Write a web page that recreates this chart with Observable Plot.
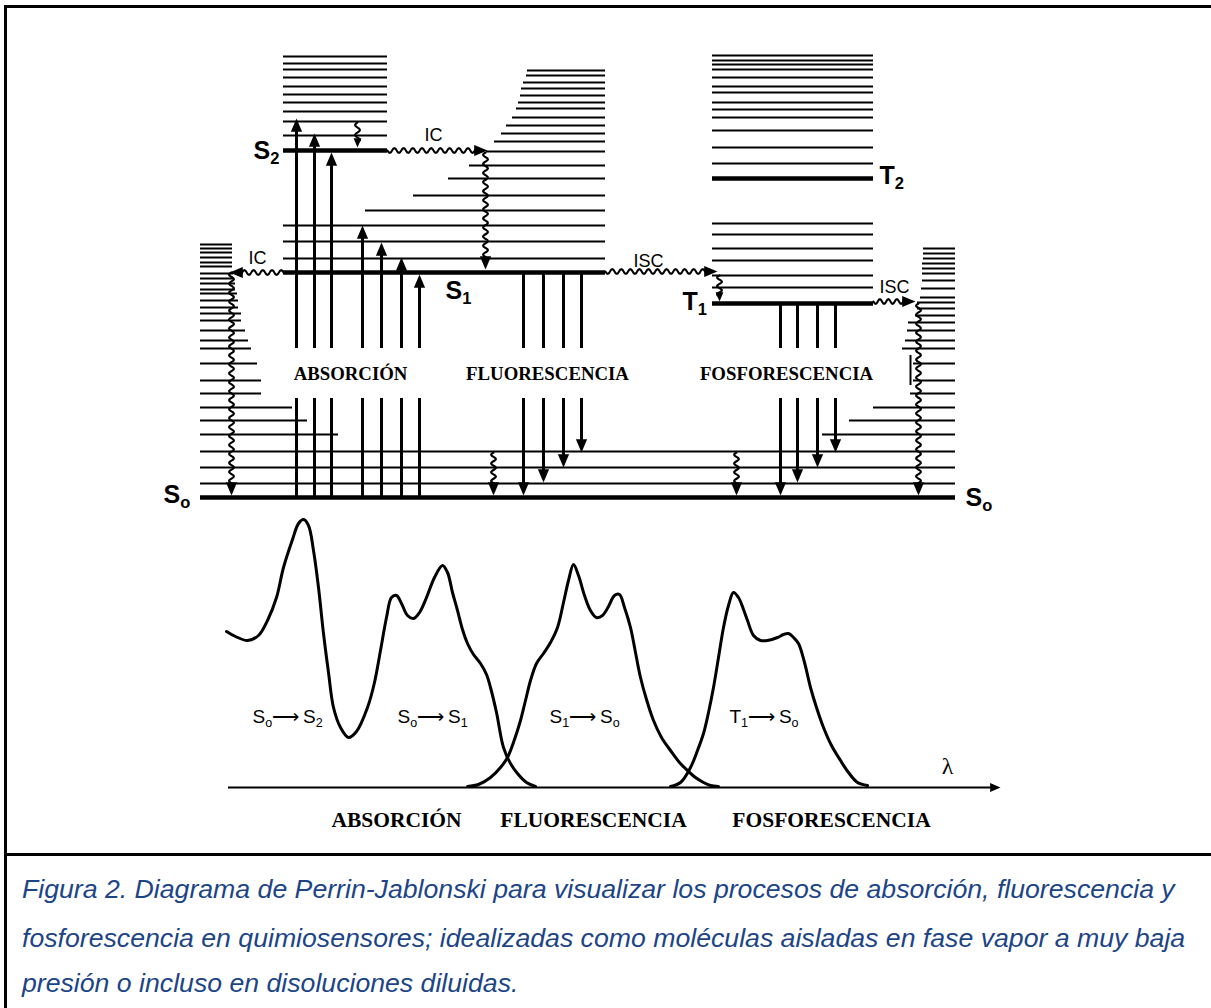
<!DOCTYPE html>
<html><head><meta charset="utf-8">
<script src="https://cdn.jsdelivr.net/npm/d3@7"></script>
<script src="https://cdn.jsdelivr.net/npm/@observablehq/plot@0.6"></script>
<style>
html,body{margin:0;padding:0;background:#fff;}
#page{position:relative;width:1211px;height:1008px;overflow:hidden;background:#fff;}
.bd{position:absolute;background:#000;z-index:5;}
#diagram,#spectra{position:absolute;left:0;}
#diagram{top:0;z-index:2}
#spectra{top:500px;z-index:1}
.cap{position:absolute;left:22px;font-family:"Liberation Sans",Arial,sans-serif;font-style:italic;font-size:22px;color:#1c4587;white-space:nowrap;}
</style></head><body>
<div id="page">
  <div id="diagram"></div>
  <div id="spectra"></div>
  <div class="bd" style="left:4px;top:5px;width:1207px;height:3px"></div>
  <div class="bd" style="left:4px;top:5px;width:3px;height:1003px"></div>
  <div class="bd" style="left:4px;top:853px;width:1207px;height:3px"></div>
  <div class="cap" id="c1" data-center="889">Figura 2. Diagrama de Perrin-Jablonski para visualizar los procesos de absorción, fluorescencia y</div>
  <div class="cap" id="c2" data-center="938">fosforescencia en quimiosensores; idealizadas como moléculas aisladas en fase vapor a muy baja</div>
  <div class="cap" id="c3" data-center="983">presión o incluso en disoluciones diluidas.</div>
</div>
<script>
// ---------------- DATA: Perrin-Jablonski diagram (energy E in arbitrary units, S0 = 0) -------------
const states = [
  {name: "S0", e: 0,   x1: 200, x2: 955},
  {name: "S1", e: 225, x1: 283, x2: 605},
  {name: "S2", e: 347, x1: 283, x2: 387},
  {name: "T1", e: 194, x1: 712, x2: 873},
  {name: "T2", e: 319, x1: 712, x2: 873}
];
// S0 vibrational levels, left stack: [energy, right end]
const s0Left = [[253,232],[249,232],[245,232],[240,232],[235,232],[231,232],[224,233],[219,234],[214,235],[208,235],[204,237],[197,238],[190,238],[184,241],[177,241],[167,245],[157,248],[149,251],[134,257],[117,261],[104,261],[90,292],[77,307],[63,338]];
// S0 vibrational levels, right stack: [energy, left start]
const s0Right = [[249,923],[244,923],[239,923],[234,922],[229,922],[224,922],[217,922],[209,921],[200,920],[195,917],[189,917],[182,915],[175,908],[167,907],[157,905],[149,902],[134,913],[117,913],[104,910],[90,873],[77,849],[63,822]];
// S0 vibrational levels spanning the whole width
const s0Full = [46, 30, 14];
// S1 vibrational levels: [energy, left start] (right end = S1 end)
const s1Vib = [[427,527],[422,526],[415,523],[409,521],[402,520],[395,518],[389,516],[380,512],[372,506],[364,501],[356,494],[346,486],[332,469],[319,448],[302,413],[287,365],[272,283],[256,283],[239,283]];
// S2 vibrational levels (same extent as S2)
const s2Vib = [441,434,428,420,411,403,395,386,376,362];
// triplet manifold levels (same extent as T1)
const tVib = [442,437,433,428,420,411,405,395,388,380,367,350,334,274,263,249,237,222,210];

// radiative transitions
const absorption = [{x:296,top:379},{x:314,top:364},{x:331,top:345},{x:362,top:272},{x:381,top:255},{x:401,top:240},{x:419,top:223}];
const fluorescence = [{x:523,bottom:2},{x:543,bottom:15},{x:563,bottom:30},{x:581,bottom:45}];
const phosphorescence = [{x:780,bottom:2},{x:797,bottom:15},{x:817,bottom:30},{x:835,bottom:45}];
const labelGap = [99, 149];

// non-radiative (wavy) transitions: from (x1,e1) to arrow tip (x2,e2)
const nonRadiative = [
  {name:"IC S2-S1",   x1:387, e1:347, x2:487, e2:347},
  {name:"IC S2-S1 v", x1:485, e1:345, x2:485, e2:228},
  {name:"VR S2",      x1:357, e1:375, x2:357, e2:350},
  {name:"IC S1-S0",   x1:283, e1:225, x2:229, e2:225},
  {name:"IC S1-S0 v", x1:231, e1:225, x2:231, e2:2},
  {name:"ISC S1-T1",  x1:605, e1:226, x2:717, e2:226},
  {name:"VR T1",      x1:719, e1:222, x2:719, e2:196},
  {name:"ISC T1-S0",  x1:873, e1:196, x2:915, e2:196},
  {name:"ISC T1-S0 v",x1:918, e1:194, x2:918, e2:2},
  {name:"VR S0 a",    x1:493, e1:45,  x2:493, e2:2},
  {name:"VR S0 b",    x1:736, e1:45,  x2:736, e2:2}
];
const marker910 = [{x:910, e1:112, e2:142}];

// labels
const stateLabels = [
  {text:"S{2}", x:253, e:347}, {text:"S{1}", x:445, e:207},
  {text:"S{o}", x:163, e:3},   {text:"S{o}", x:965, e:0},
  {text:"T{1}", x:682, e:196}, {text:"T{2}", x:879, e:322}
];
const processLabels = [
  {text:"IC", x:433, e:362}, {text:"IC", x:257, e:239},
  {text:"ISC", x:648, e:236}, {text:"ISC", x:894, e:210}
];
const bandLabels = [
  {text:"ABSORCIÓN", x:350}, {text:"FLUORESCENCIA", x:547}, {text:"FOSFORESCENCIA", x:786}
];

// ---------------- DATA: spectra (x = wavelength position, i = intensity) -------------
const absSpectrum = [[226,156],[235,151],[247,147],[258,152],[267,167],[276,190],[283,220],[292,248],[298,264],[303,268],[308,262],[313,237],[318,200],[323,154],[328,115],[333,80],[340,60],[348,50],[356,56],[367,80],[374,105],[380,137],[386,170],[391,190],[396,192],[401,184],[407,172],[413,169],[419,175],[426,190],[434,210],[442,222],[447,215],[452,195],[457,177],[462,158],[467,144],[473,133],[480,124],[486,113],[490,100],[496,75],[503,40],[510,24],[517,14],[526,5],[535,1]];
const fluoSpectrum = [[467,1],[478,3],[490,10],[500,20],[507,30],[514,48],[520,67],[525,87],[530,107],[536,124],[543,134],[550,145],[557,160],[563,185],[568,207],[573,223],[578,212],[584,192],[590,177],[596,170],[602,172],[608,181],[614,192],[619,193],[624,180],[630,160],[635,135],[640,110],[646,88],[653,67],[661,50],[670,37],[679,25],[687,17],[695,10],[703,5],[710,2],[718,1]];
const phosSpectrum = [[670,1],[680,5],[690,20],[697,37],[703,54],[708,75],[713,100],[718,130],[723,160],[728,182],[733,195],[738,190],[743,178],[747,167],[753,152],[760,147],[767,147],[777,150],[783,153],[788,154],[793,150],[798,144],[804,125],[810,100],[816,80],[823,60],[831,42],[840,27],[848,15],[857,5],[867,2]];
const lambdaAxis = {from: 228, to: 1000};
const spectrumLabels = [
  {text:"S{o}⟶\u2009S{2}", x:252}, {text:"S{o}⟶\u2009S{1}", x:397},
  {text:"S{1}⟶\u2009S{o}", x:549}, {text:"T{1}⟶\u2009S{o}", x:729}
];
const bottomLabels = [
  {text:"ABSORCIÓN", x:396}, {text:"FLUORESCENCIA", x:593}, {text:"FOSFORESCENCIA", x:831}
];

// ---------------- helpers -------------
function wavy(context) {
  let pts = [];
  return {
    areaStart() {}, areaEnd() {},
    lineStart() { pts = []; },
    point(x, y) { pts.push([+x, +y]); },
    lineEnd() {
      for (let i = 0; i < pts.length - 1; i++) {
        const [x0, y0] = pts[i], [x1, y1] = pts[i + 1];
        const dx = x1 - x0, dy = y1 - y0, L = Math.hypot(dx, dy) || 1;
        const nx = -dy / L, ny = dx / L;
        const n = Math.max(1, Math.round(L / 4.5)), steps = n * 6, amp = 2.4;
        if (i === 0) context.moveTo(x0, y0);
        for (let s = 1; s <= steps; s++) {
          const t = s / steps, a = amp * Math.sin(Math.PI * n * t);
          context.lineTo(x0 + dx * t + nx * a, y0 + dy * t + ny * a);
        }
      }
    }
  };
}
const dirs = {down:[0,1], up:[0,-1], right:[1,0], left:[-1,0]};
function headSymbol(dir) {
  const [ux, uy] = dirs[dir];
  return {draw(ctx, size) {
    const k = Math.sqrt(size / Math.PI) / 4.5, w = 5.5 * k, h = 13 * k;
    const bx = -ux * h, by = -uy * h, px = -uy, py = ux;
    ctx.moveTo(0, 0);
    ctx.lineTo(bx + px * w, by + py * w);
    ctx.lineTo(bx - px * w, by - py * w);
    ctx.closePath();
  }};
}
function applySubscripts(root) {
  root.querySelectorAll("text").forEach(t => {
    const s = t.textContent;
    if (!s.includes("{")) return;
    const fs = parseFloat(getComputedStyle(t).fontSize) || 16;
    const d = fs * 0.22;
    const NS = "http://www.w3.org/2000/svg";
    while (t.firstChild) t.removeChild(t.firstChild);
    const re = /\{([^}]*)\}/g; let last = 0, m, shifted = false;
    const add = (txt, sub) => {
      const ts = document.createElementNS(NS, "tspan");
      ts.textContent = txt;
      if (sub) { ts.setAttribute("dy", d); ts.setAttribute("font-size", fs * 0.66); shifted = true; }
      else if (shifted) { ts.setAttribute("dy", -d); shifted = false; }
      t.appendChild(ts);
    };
    while ((m = re.exec(s))) {
      if (m.index > last) add(s.slice(last, m.index), false);
      add(m[1], true);
      last = re.lastIndex;
    }
    if (last < s.length) add(s.slice(last), false);
  });
}

// ---------------- build tables -------------
const S = Object.fromEntries(states.map(d => [d.name, d]));
const thinLevels = [
  ...s0Left.map(([e, x2]) => ({e, x1: S.S0.x1, x2})),
  ...s0Right.map(([e, x1]) => ({e, x1, x2: S.S0.x2})),
  ...s0Full.map(e => ({e, x1: S.S0.x1, x2: S.S0.x2})),
  ...s1Vib.map(([e, x1]) => ({e, x1, x2: S.S1.x2})),
  ...s2Vib.map(e => ({e, x1: S.S2.x1, x2: S.S2.x2})),
  ...tVib.map(e => ({e, x1: S.T1.x1, x2: S.T1.x2}))
];
const HEAD = 8;
const [gLo, gHi] = labelGap;
const shafts = [
  ...absorption.flatMap(d => [{x: d.x, y1: S.S0.e, y2: gLo}, {x: d.x, y1: gHi, y2: d.top - HEAD}]),
  ...fluorescence.flatMap(d => [{x: d.x, y1: S.S1.e, y2: gHi}, {x: d.x, y1: gLo, y2: d.bottom + HEAD}]),
  ...phosphorescence.flatMap(d => [{x: d.x, y1: S.T1.e, y2: gHi}, {x: d.x, y1: gLo, y2: d.bottom + HEAD}])
];
const heads = [
  ...absorption.map(d => ({x: d.x, e: d.top, dir: "up", small: false})),
  ...fluorescence.map(d => ({x: d.x, e: d.bottom, dir: "down", small: false})),
  ...phosphorescence.map(d => ({x: d.x, e: d.bottom, dir: "down", small: false}))
];
const wavyPts = [];
nonRadiative.forEach(d => {
  const horiz = d.x2 !== d.x1;
  const dir = horiz ? (d.x2 > d.x1 ? "right" : "left") : (d.e2 < d.e1 ? "down" : "up");
  const L = Math.hypot(d.x2 - d.x1, d.e2 - d.e1);
  const small = L < 35;
  const back = small ? 5 : 8;
  const ux = (d.x2 - d.x1) / L, ue = (d.e2 - d.e1) / L;
  wavyPts.push({id: d.name, x: d.x1, e: d.e1}, {id: d.name, x: d.x2 - ux * back, e: d.e2 - ue * back});
  heads.push({x: d.x2, e: d.e2, dir, small});
});
const headMarks = [];
for (const dir of Object.keys(dirs)) for (const small of [false, true]) {
  const rows = heads.filter(h => h.dir === dir && h.small === small);
  if (rows.length) headMarks.push(Plot.dot(rows, {x: "x", y: "e", symbol: headSymbol(dir), r: small ? 3.2 : 4.6, fill: "black", stroke: "none"}));
}

// ---------------- diagram -------------
const diagram = Plot.plot({
  width: 1211, height: 520,
  margin: 0,
  style: {background: "transparent", overflow: "visible"},
  x: {domain: [0, 1211], range: [0, 1211], axis: null},
  y: {domain: [0, 497], range: [497, 0], axis: null},
  marks: [
    Plot.ruleY(thinLevels, {y: "e", x1: "x1", x2: "x2", stroke: "black", strokeWidth: 2}),
    Plot.ruleY(states, {y: "e", x1: "x1", x2: "x2", stroke: "black", strokeWidth: 4.5}),
    Plot.ruleX(shafts, {x: "x", y1: "y1", y2: "y2", stroke: "black", strokeWidth: 3}),
    Plot.ruleX(marker910, {x: "x", y1: "e1", y2: "e2", stroke: "black", strokeWidth: 2}),
    Plot.line(wavyPts, {x: "x", y: "e", z: "id", curve: wavy, stroke: "black", strokeWidth: 2.1}),
    ...headMarks,
    Plot.text(stateLabels, {x: "x", y: "e", text: "text", textAnchor: "start", lineAnchor: "middle", fontFamily: "Liberation Sans, Arial, sans-serif", fontWeight: "bold", fontSize: 25, fill: "black"}),
    Plot.text(processLabels, {x: "x", y: "e", text: "text", textAnchor: "middle", lineAnchor: "middle", fontFamily: "Liberation Sans, Arial, sans-serif", fontSize: 18, fill: "black"}),
    Plot.text(bandLabels, {x: "x", y: () => (gLo + gHi) / 2, text: "text", textAnchor: "middle", lineAnchor: "middle", fontFamily: "Liberation Serif, Times New Roman, serif", fontWeight: "bold", fontSize: 18.8, fill: "black"})
  ]
});
document.getElementById("diagram").appendChild(diagram);

// ---------------- spectra -------------
const spectraRows = [
  ...absSpectrum.map(([x, i]) => ({band: "abs", x, i})),
  ...fluoSpectrum.map(([x, i]) => ({band: "fluo", x, i})),
  ...phosSpectrum.map(([x, i]) => ({band: "phos", x, i}))
];
const spectra = Plot.plot({
  width: 1211, height: 340,
  margin: 0,
  style: {background: "transparent", overflow: "visible"},
  x: {domain: [0, 1211], range: [0, 1211], axis: null},
  y: {domain: [0, 287], range: [287, 0], axis: null},
  marks: [
    Plot.ruleY([0], {x1: lambdaAxis.from, x2: lambdaAxis.to - 8, stroke: "black", strokeWidth: 2}),
    Plot.dot([{x: lambdaAxis.to, i: 0}], {x: "x", y: "i", symbol: headSymbol("right"), r: 3.6, fill: "black", stroke: "none"}),
    Plot.line(spectraRows, {x: "x", y: "i", z: "band", curve: "catmull-rom", stroke: "black", strokeWidth: 3, strokeLinejoin: "round"}),
    Plot.text([{t: "λ"}], {x: () => 947, y: () => 21, text: "t", textAnchor: "middle", lineAnchor: "middle", fontFamily: "Liberation Serif, serif", fontSize: 24, fill: "black"}),
    Plot.text(spectrumLabels, {x: "x", y: () => 71, text: "text", textAnchor: "start", lineAnchor: "middle", fontFamily: "Liberation Sans, Arial, sans-serif", fontSize: 19, fill: "black"}),
    Plot.text(bottomLabels, {x: "x", y: () => -33, text: "text", textAnchor: "middle", lineAnchor: "middle", fontFamily: "Liberation Serif, Times New Roman, serif", fontWeight: "bold", fontSize: 21.5, fill: "black"})
  ]
});
document.getElementById("spectra").appendChild(spectra);

applySubscripts(diagram);
applySubscripts(spectra);

// caption: fit first line to the reference width and place each line on its centre
(function fitCaption() {
  const caps = document.querySelectorAll(".cap");
  const c1 = document.getElementById("c1");
  const w = c1.getBoundingClientRect().width;
  const fs = 22 * 1153 / w;
  caps.forEach(c => {
    c.style.fontSize = fs + "px";
    c.style.lineHeight = Math.round(fs * 1.2) + "px";
    const h = Math.round(fs * 1.2);
    c.style.top = (+c.dataset.center - h / 2) + "px";
  });
})();
</script>
</body></html>
